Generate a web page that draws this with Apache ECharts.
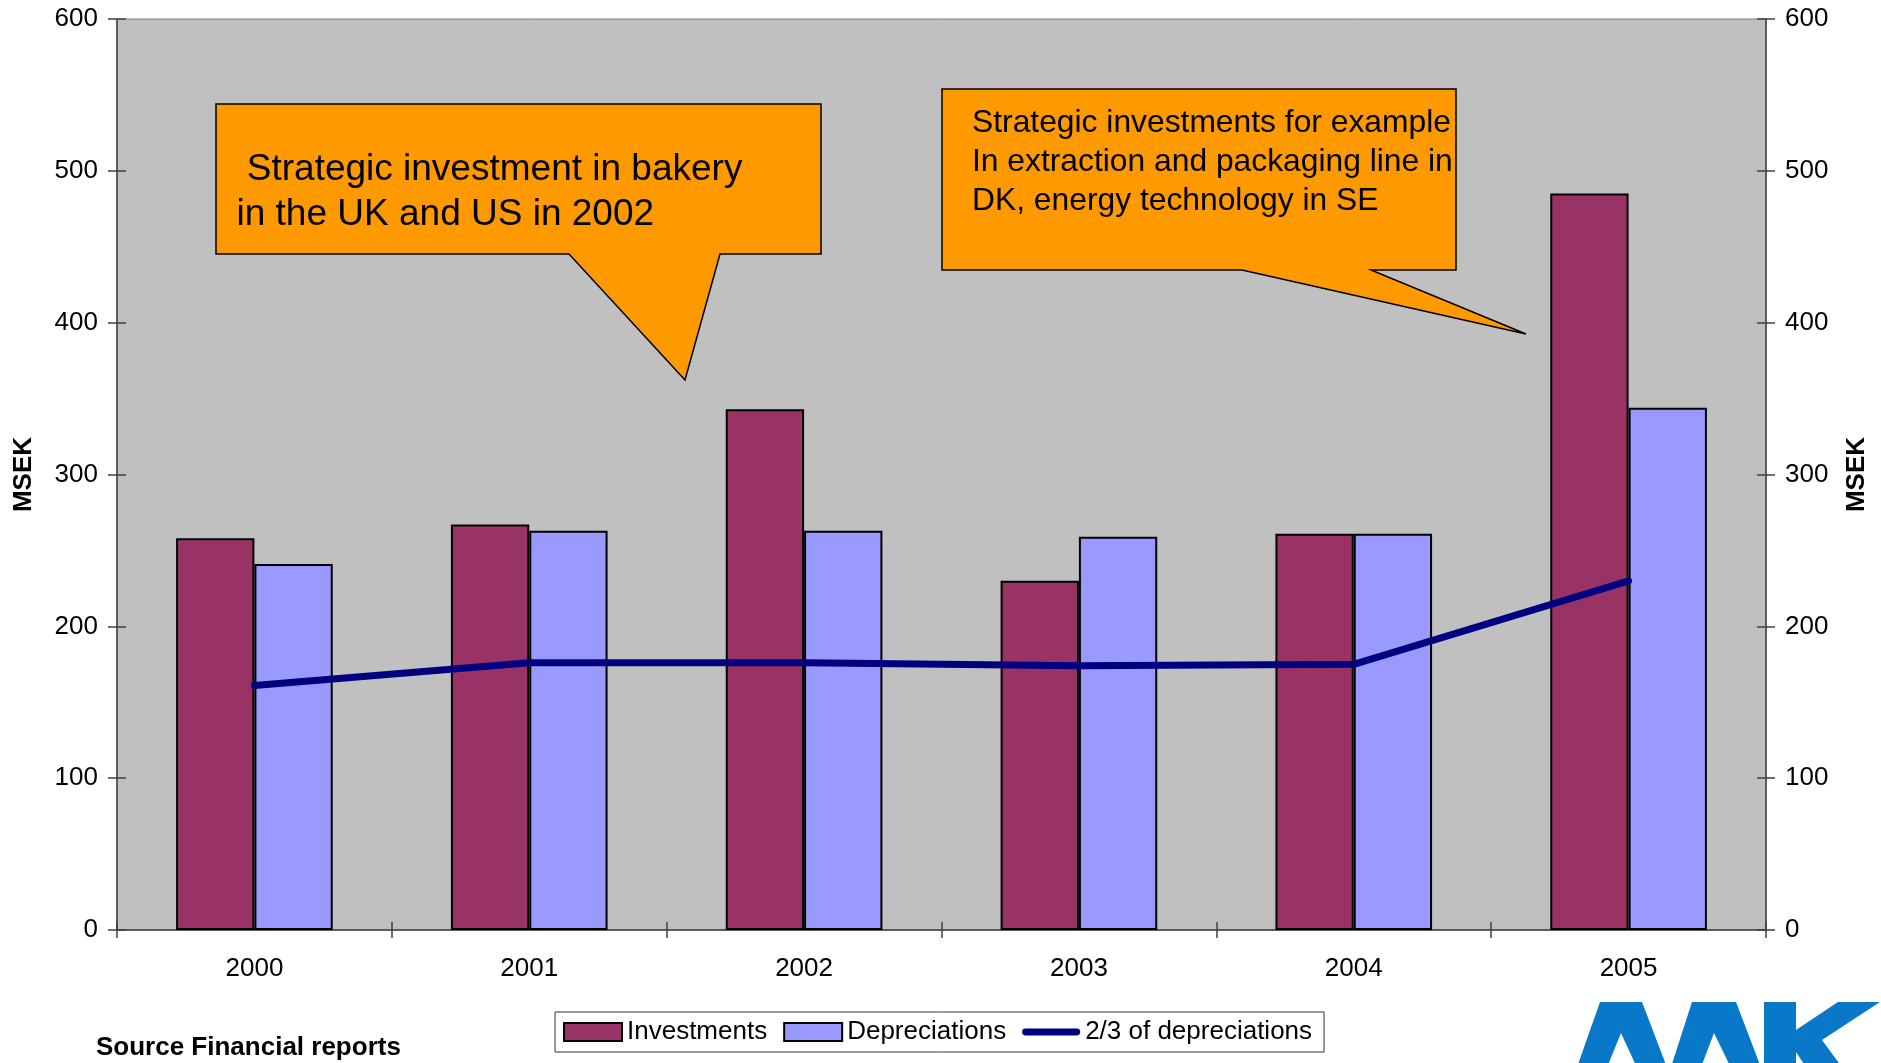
<!DOCTYPE html>
<html>
<head>
<meta charset="utf-8">
<title>Investments and depreciations</title>
<script src="https://cdn.jsdelivr.net/npm/echarts@6/dist/echarts.min.js"></script>
<style>
  html, body { margin: 0; padding: 0; background: #fff; }
  #chart { width: 1881px; height: 1063px; }
</style>
</head>
<body>
<div id="chart"></div>
<script>
// categories (years)
var years = ['2000', '2001', '2002', '2003', '2004', '2005'];
// values in MSEK
var investments = [258, 267, 343, 230, 261, 485];
var depreciations = [241, 263, 263, 259, 261, 344];
var twoThirdsDep = [161, 176, 176, 174, 175, 230];
// y axis ticks (both sides)
var yTicks = [0, 100, 200, 300, 400, 500, 600];

var FONT = "'Liberation Sans', Arial, sans-serif";
var axisColor = '#404040';

var chart = echarts.init(document.getElementById('chart'));

// value axis builder, inside = only the inner half of the crossing ticks
function valueAxis(pos, inside, withName) {
  return {
    type: 'value',
    position: pos,
    min: yTicks[0],
    max: yTicks[yTicks.length - 1],
    interval: yTicks[1] - yTicks[0],
    splitLine: { show: false },
    axisLine: { show: !inside, lineStyle: { color: axisColor, width: 1.5 } },
    axisTick: { show: true, inside: inside, length: 9, lineStyle: { color: axisColor, width: 1.5 } },
    axisLabel: { show: !inside, fontSize: 26, fontFamily: FONT, color: '#000', margin: 19 },
    name: withName ? 'MSEK' : '',
    nameLocation: 'middle',
    nameRotate: 90,
    nameGap: pos === 'left' ? 80 : 78,
    nameTextStyle: { fontSize: 26, fontWeight: 'bold', fontFamily: FONT, color: '#000' }
  };
}

function categoryAxis(inside) {
  return {
    type: 'category',
    position: 'bottom',
    data: years,
    axisLine: { show: !inside, onZero: false, lineStyle: { color: axisColor, width: 1.5 } },
    axisTick: { show: true, inside: inside, length: 8, lineStyle: { color: axisColor, width: 1.5 } },
    axisLabel: { show: !inside, fontSize: 26, fontFamily: FONT, color: '#000', margin: 26 }
  };
}

// callout text, one element per line
function calloutText(lines, x, y0, lh, fs) {
  return lines.map(function (t, i) {
    return {
      type: 'text', z: 11,
      style: {
        text: t, x: x, y: y0 + i * lh,
        font: fs + 'px ' + FONT, fill: '#000',
        textAlign: 'left', textVerticalAlign: 'middle', verticalAlign: 'middle'
      }
    };
  });
}

var calloutStyle = { fill: '#FF9900', stroke: '#000', lineWidth: 1.5 };
var logoStyle = { fill: '#0A78C8' };

var graphics = [
  // left callout
  { type: 'polygon', z: 10, style: calloutStyle,
    shape: { points: [[216, 104], [821, 104], [821, 254], [720, 254], [685, 380], [569, 254], [216, 254]] } },
  // right callout
  { type: 'polygon', z: 10, style: calloutStyle,
    shape: { points: [[942, 89], [1456, 89], [1456, 270], [1371, 270], [1526, 334], [1242, 270], [942, 270]] } },
  // source note
  { type: 'text', z: 11,
    style: { text: 'Source Financial reports', x: 96, y: 1048, font: 'bold 26px ' + FONT, fill: '#000',
      textVerticalAlign: 'middle', verticalAlign: 'middle' } },
  // logo (cut by the bottom edge)
  { type: 'polygon', style: logoStyle,
    shape: { points: [[1600, 1002], [1642, 1002], [1668, 1070], [1638, 1070], [1621, 1033], [1606, 1070], [1576, 1070]] } },
  { type: 'polygon', style: logoStyle,
    shape: { points: [[1692, 1002], [1736, 1002], [1762, 1070], [1732, 1070], [1714, 1033], [1700, 1070], [1670, 1070]] } },
  { type: 'polygon', style: logoStyle,
    shape: { points: [[1764, 1002], [1796, 1002], [1796, 1030], [1838, 1002], [1880, 1002], [1822, 1040], [1844, 1070],
      [1808, 1070], [1796, 1052], [1796, 1070], [1764, 1070]] } }
];
graphics = graphics
  .concat(calloutText([' Strategic investment in bakery', 'in the UK and US in 2002'], 236.5, 169.5, 45, 37))
  .concat(calloutText(['Strategic investments for example', 'In extraction and packaging line in',
    'DK, energy technology in SE'], 972, 123, 39, 31.8));

var option = {
  backgroundColor: '#ffffff',
  animation: false,
  textStyle: { fontFamily: FONT },
  grid: {
    left: 117, right: 115, top: 19, bottom: 133,
    show: true, backgroundColor: '#C0C0C0', borderColor: '#808080', borderWidth: 1,
    containLabel: false, outerBoundsMode: 'none'
  },
  legend: {
    left: 555, top: 1012,
    orient: 'horizontal',
    itemWidth: 58, itemHeight: 18, itemGap: 16,
    padding: [7, 12, 7, 8],
    borderColor: '#333', borderWidth: 1,
    textStyle: { fontSize: 26, fontFamily: FONT, color: '#000', lineHeight: 26 },
    data: [
      { name: 'Investments', icon: 'rect' },
      { name: 'Depreciations', icon: 'rect' },
      // thick navy bar with round ends, like the line
      { name: '2/3 of depreciations', icon: 'path://M3.5,0 L56.5,0 A3.5,3.5 0 0 1 56.5,7 L3.5,7 A3.5,3.5 0 0 1 3.5,0 Z',
        itemStyle: { color: '#000080', borderWidth: 0 } }
    ]
  },
  xAxis: [categoryAxis(false), categoryAxis(true)],
  yAxis: [valueAxis('left', false, true), valueAxis('right', false, true),
    valueAxis('left', true, false), valueAxis('right', true, false)],
  series: [
    {
      name: 'Investments', type: 'bar',
      data: investments,
      barWidth: '28.5%', barGap: '0%',
      itemStyle: { color: '#993366', borderColor: '#000', borderWidth: 2 }
    },
    {
      name: 'Depreciations', type: 'bar',
      data: depreciations,
      barWidth: '28.5%', barGap: '0%',
      itemStyle: { color: '#9999FF', borderColor: '#000', borderWidth: 2 }
    },
    {
      name: '2/3 of depreciations', type: 'line',
      data: twoThirdsDep,
      symbol: 'none', z: 5,
      itemStyle: { color: '#000080' },
      lineStyle: { color: '#000080', width: 7, cap: 'round' }
    }
  ],
  graphic: graphics
};

chart.setOption(option);
</script>
</body>
</html>
